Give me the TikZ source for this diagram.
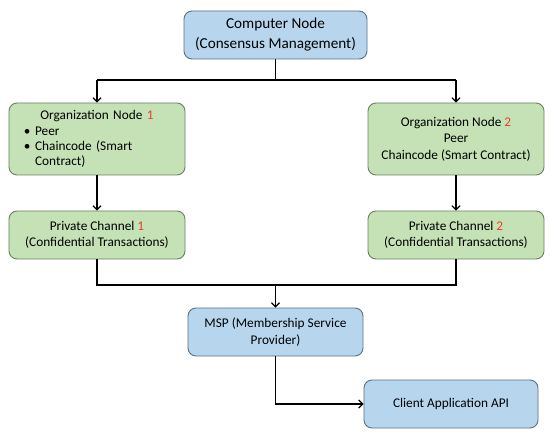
\documentclass[tikz,border=0pt]{standalone}
\usepackage{fontspec}
\setmainfont{Carlito}
\usetikzlibrary{arrows.meta}
\definecolor{bfill}{HTML}{B7D6EE}
\definecolor{bdraw}{HTML}{5A7184}
\definecolor{gfill}{HTML}{C4E2B6}
\definecolor{gdraw}{HTML}{6B8060}
\definecolor{numred}{HTML}{E8402A}
\tikzset{
  bbox/.style={draw=bdraw, fill=bfill, line width=0.9bp, rounded corners=8bp, align=center, inner sep=2bp},
  gbox/.style={draw=gdraw, fill=gfill, line width=0.9bp, rounded corners=8bp, align=center, inner sep=2bp},
  conn/.style={line width=1.4bp, black},
  arr/.style={conn, -{Straight Barb[length=4bp,width=8bp,line width=1.2bp]}},
  txt/.style={font=\fontsize{13.3bp}{16.5bp}\selectfont}
}
\begin{document}
\begin{tikzpicture}[x=1bp,y=-1bp]
\useasboundingbox (0,0) rectangle (550,436);
\node[bbox, minimum width=183bp, minimum height=48bp, font=\fontsize{15.2bp}{20bp}\selectfont] (comp) at (275.5,35) {Computer Node\\(Consensus Management)};
\node[gbox, minimum width=176bp, minimum height=72bp, text width=168bp, align=left, font=\fontsize{13.3bp}{15.3bp}\selectfont] (org1) at (97,139)
  {\makebox[168bp][c]{Organization Node \textcolor{numred}{1}}\\
   \hspace*{11bp}\mbox{\textbullet\hspace{4.5bp}Peer}\\
   \hspace*{11bp}\mbox{\textbullet\hspace{4.5bp}Chaincode (Smart}\\
   \hspace*{11bp}\mbox{\phantom{\textbullet}\hspace{4.5bp}Contract)}};
\node[gbox, minimum width=176bp, minimum height=72bp, txt] (org2) at (456,139)
  {Organization Node \textcolor{numred}{2}\\Peer\\Chaincode (Smart Contract)};
\node[gbox, minimum width=176bp, minimum height=48bp, txt] (pc1) at (97,235)
  {Private Channel \textcolor{numred}{1}\\(Confidential Transactions)};
\node[gbox, minimum width=176bp, minimum height=48bp, txt] (pc2) at (456,235)
  {Private Channel \textcolor{numred}{2}\\(Confidential Transactions)};
\node[bbox, minimum width=175bp, minimum height=48bp, txt] (msp) at (275.5,332)
  {MSP (Membership Service\\Provider)};
\node[bbox, minimum width=174bp, minimum height=48bp, txt] (client) at (451,404)
  {Client Application API};
\coordinate (top) at (275.5,80);
\coordinate (bot) at (275.5,285);
\draw[conn] (comp.south) -- (top);
\draw[conn] (org1.north |- top) -- (org2.north |- top);
\draw[arr] (org1.north |- top) -- (org1.north);
\draw[arr] (org2.north |- top) -- (org2.north);
\draw[arr] (org1.south) -- (pc1.north);
\draw[arr] (org2.south) -- (pc2.north);
\draw[conn] (pc1.south) -- (pc1.south |- bot) -- (pc2.south |- bot) -- (pc2.south);
\draw[arr] (bot) -- (msp.north);
\draw[arr] (msp.south) |- (client.west);
\end{tikzpicture}
\end{document}
